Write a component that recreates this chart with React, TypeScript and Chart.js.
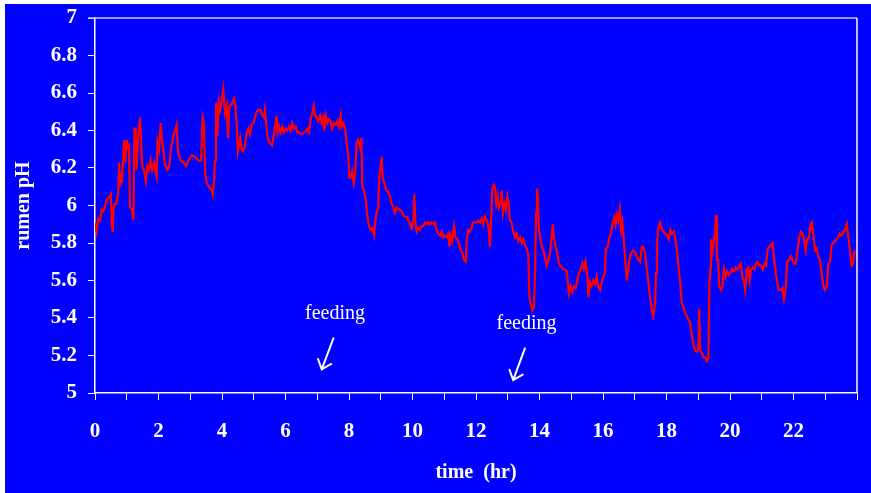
import React, { useEffect, useRef } from "react";
import { Chart, registerables } from "chart.js";

Chart.register(...registerables);

const timeHr: number[] = [
  0.00,0.05,0.10,0.16,0.21,0.26,0.31,0.37,0.42,0.47,
  0.50,0.53,0.56,0.58,0.63,0.68,0.73,0.76,0.79,0.82,
  0.85,0.89,0.92,0.95,1.00,1.03,1.07,1.10,1.16,1.21,
  1.24,1.28,1.31,1.36,1.42,1.45,1.49,1.54,1.60,1.65,
  1.70,1.75,1.80,1.86,1.91,1.94,1.97,2.02,2.07,2.11,
  2.15,2.20,2.28,2.34,2.39,2.47,2.52,2.57,2.62,2.70,
  2.78,2.87,2.94,3.05,3.15,3.25,3.34,3.39,3.43,3.47,
  3.52,3.59,3.68,3.71,3.75,3.78,3.81,3.85,3.90,3.94,
  3.99,4.04,4.07,4.10,4.15,4.19,4.23,4.31,4.38,4.42,
  4.46,4.50,4.57,4.62,4.67,4.72,4.78,4.83,4.88,4.94,
  4.99,5.04,5.09,5.14,5.22,5.27,5.32,5.35,5.39,5.43,
  5.48,5.53,5.58,5.64,5.69,5.72,5.75,5.80,5.85,5.90,
  5.95,6.01,6.06,6.11,6.16,6.21,6.27,6.32,6.37,6.43,
  6.48,6.53,6.58,6.64,6.69,6.74,6.79,6.84,6.89,6.93,
  6.98,7.03,7.09,7.14,7.19,7.22,7.27,7.32,7.37,7.42,
  7.47,7.53,7.58,7.63,7.69,7.74,7.77,7.82,7.87,7.93,
  7.98,8.01,8.06,8.10,8.15,8.19,8.24,8.29,8.35,8.39,
  8.42,8.47,8.53,8.58,8.63,8.68,8.73,8.79,8.82,8.87,
  8.92,8.95,9.00,9.03,9.06,9.11,9.17,9.24,9.29,9.34,
  9.40,9.45,9.50,9.57,9.66,9.74,9.82,9.87,9.92,9.97,
  10.03,10.06,10.09,10.13,10.18,10.24,10.29,10.34,10.39,10.45,
  10.50,10.55,10.60,10.66,10.71,10.76,10.81,10.87,10.92,10.97,
  11.02,11.08,11.13,11.16,11.20,11.25,11.31,11.36,11.41,11.46,
  11.52,11.57,11.62,11.68,11.71,11.76,11.81,11.86,11.91,11.97,
  12.02,12.07,12.13,12.18,12.23,12.28,12.34,12.39,12.44,12.48,
  12.51,12.56,12.60,12.64,12.68,12.72,12.78,12.81,12.85,12.90,
  12.94,12.99,13.03,13.07,13.12,13.17,13.23,13.28,13.33,13.39,
  13.44,13.49,13.54,13.60,13.65,13.68,13.72,13.77,13.83,13.86,
  13.89,13.92,13.95,13.98,14.03,14.07,14.12,14.17,14.23,14.28,
  14.33,14.38,14.42,14.46,14.51,14.56,14.61,14.65,14.70,14.75,
  14.80,14.86,14.89,14.93,14.98,15.03,15.09,15.14,15.19,15.24,
  15.30,15.35,15.40,15.45,15.51,15.54,15.59,15.64,15.69,15.75,
  15.80,15.85,15.91,15.96,16.01,16.06,16.09,16.15,16.20,16.25,
  16.31,16.36,16.40,16.44,16.48,16.53,16.57,16.61,16.65,16.69,
  16.75,16.80,16.85,16.90,16.95,17.01,17.06,17.11,17.17,17.22,
  17.27,17.32,17.38,17.43,17.48,17.53,17.58,17.64,17.67,17.70,
  17.75,17.80,17.86,17.91,17.96,18.02,18.07,18.12,18.17,18.23,
  18.28,18.33,18.38,18.43,18.48,18.53,18.58,18.64,18.69,18.74,
  18.79,18.84,18.90,18.95,19.00,19.03,19.06,19.12,19.17,19.22,
  19.28,19.32,19.35,19.39,19.40,19.44,19.50,19.53,19.56,19.59,
  19.63,19.66,19.72,19.76,19.81,19.86,19.91,19.97,20.02,20.07,
  20.13,20.18,20.23,20.28,20.34,20.39,20.44,20.48,20.53,20.58,
  20.62,20.66,20.72,20.77,20.82,20.87,20.92,20.98,21.03,21.08,
  21.13,21.19,21.24,21.29,21.34,21.39,21.44,21.49,21.54,21.60,
  21.65,21.70,21.75,21.80,21.86,21.91,21.96,22.02,22.07,22.12,
  22.17,22.23,22.28,22.33,22.38,22.43,22.49,22.54,22.58,22.62,
  22.68,22.73,22.78,22.83,22.89,22.94,22.99,23.05,23.10,23.15,
  23.20,23.25,23.31,23.36,23.41,23.46,23.52,23.57,23.62,23.68,
  23.73,23.78,23.83,23.88,23.91,23.95,
];

const rumenPH: number[] = [
  5.91,5.86,5.93,5.92,5.98,5.97,5.99,6.03,6.04,6.05,
  6.06,5.89,5.86,5.98,6.01,6.01,6.07,6.23,6.10,6.17,
  6.12,6.28,6.35,6.23,6.35,6.31,6.32,5.99,5.98,5.92,
  6.41,6.41,6.19,6.37,6.47,6.35,6.21,6.19,6.13,6.21,
  6.19,6.24,6.19,6.23,6.17,6.15,6.34,6.30,6.44,6.35,
  6.30,6.22,6.19,6.21,6.30,6.37,6.40,6.43,6.28,6.24,
  6.23,6.21,6.24,6.27,6.26,6.24,6.24,6.47,6.44,6.17,
  6.12,6.10,6.08,6.06,6.14,6.24,6.55,6.37,6.55,6.51,
  6.56,6.62,6.55,6.49,6.53,6.36,6.53,6.54,6.57,6.53,
  6.44,6.29,6.36,6.30,6.29,6.32,6.39,6.41,6.38,6.43,
  6.44,6.47,6.50,6.51,6.51,6.48,6.47,6.51,6.44,6.37,
  6.34,6.33,6.32,6.39,6.44,6.48,6.39,6.42,6.39,6.42,
  6.39,6.41,6.40,6.42,6.40,6.44,6.41,6.42,6.39,6.39,
  6.38,6.38,6.39,6.40,6.41,6.39,6.46,6.49,6.53,6.48,
  6.47,6.45,6.48,6.44,6.47,6.40,6.48,6.44,6.46,6.45,
  6.41,6.44,6.43,6.45,6.42,6.48,6.42,6.44,6.42,6.33,
  6.26,6.15,6.15,6.18,6.12,6.17,6.33,6.35,6.31,6.36,
  6.10,6.08,6.03,5.94,5.89,5.87,5.88,5.84,5.91,5.96,
  5.99,6.15,6.21,6.26,6.15,6.12,6.08,6.07,6.05,6.01,
  5.99,5.96,5.99,5.98,5.97,5.94,5.94,5.92,5.90,5.88,
  5.93,6.06,5.91,5.86,5.88,5.87,5.89,5.89,5.91,5.90,
  5.91,5.90,5.91,5.90,5.91,5.87,5.85,5.84,5.86,5.83,
  5.84,5.83,5.85,5.78,5.84,5.81,5.89,5.83,5.82,5.80,
  5.76,5.75,5.71,5.70,5.82,5.87,5.86,5.88,5.91,5.91,
  5.91,5.92,5.91,5.93,5.90,5.94,5.92,5.89,5.78,5.94,
  6.08,6.11,6.10,6.01,6.05,5.99,6.02,6.08,5.96,6.01,
  5.98,6.05,6.01,5.92,5.91,5.86,5.83,5.85,5.81,5.83,
  5.80,5.82,5.79,5.77,5.73,5.51,5.48,5.44,5.46,5.66,
  5.96,6.09,6.05,5.87,5.82,5.78,5.76,5.73,5.68,5.71,
  5.75,5.83,5.90,5.82,5.78,5.74,5.69,5.68,5.67,5.66,
  5.66,5.65,5.59,5.53,5.57,5.54,5.57,5.56,5.60,5.64,
  5.66,5.69,5.66,5.70,5.62,5.51,5.59,5.57,5.60,5.58,
  5.62,5.57,5.55,5.59,5.62,5.64,5.77,5.78,5.83,5.85,
  5.91,5.94,5.90,5.95,5.92,5.98,5.87,5.91,5.83,5.73,
  5.60,5.67,5.73,5.75,5.76,5.75,5.73,5.71,5.70,5.78,
  5.78,5.75,5.66,5.59,5.51,5.45,5.41,5.47,5.64,5.80,
  5.89,5.91,5.87,5.86,5.85,5.84,5.82,5.87,5.85,5.86,
  5.82,5.76,5.67,5.59,5.48,5.46,5.43,5.41,5.39,5.38,
  5.32,5.26,5.23,5.22,5.23,5.45,5.23,5.21,5.19,5.19,
  5.17,5.19,5.59,5.66,5.82,5.75,5.83,5.85,5.95,5.71,
  5.71,5.57,5.55,5.57,5.66,5.62,5.65,5.63,5.64,5.66,
  5.65,5.67,5.66,5.67,5.69,5.62,5.60,5.55,5.66,5.67,
  5.60,5.66,5.67,5.66,5.69,5.70,5.68,5.68,5.66,5.69,
  5.68,5.77,5.78,5.79,5.80,5.71,5.64,5.59,5.55,5.55,
  5.56,5.50,5.55,5.70,5.71,5.73,5.71,5.69,5.69,5.75,
  5.82,5.86,5.85,5.82,5.76,5.82,5.83,5.90,5.91,5.85,
  5.76,5.77,5.73,5.71,5.64,5.57,5.55,5.57,5.69,5.70,
  5.79,5.80,5.81,5.82,5.83,5.85,5.84,5.86,5.87,5.90,
  5.83,5.76,5.68,5.69,5.75,5.76,
];

// Axis ranges / tick labels
const xMin = 0;
const xMax = 24;
const xLabelled: number[] = [0, 2, 4, 6, 8, 10, 12, 14, 16, 18, 20, 22];
const yMin = 5;
const yMax = 7;
const yStep = 0.2;
const xTitle = "time  (hr)";
const yTitle = "rumen pH";

// "feeding" annotations (data coordinates)
const noteText = "feeding";
const noteHr: number[] = [7.56, 13.59];
const notePH: number[] = [5.393, 5.341];
const arrowFromHr: number[] = [7.51, 13.54];
const arrowFromPH: number[] = [5.292, 5.238];
const arrowToHr: number[] = [7.14, 13.17];
const arrowToPH: number[] = [5.126, 5.069];

const serif = '"Liberation Serif", "Times New Roman", serif';

const decorPlugin = {
  id: "decor",
  afterDatasetsDraw(chart: any) {
    const { ctx, chartArea, scales } = chart;
    const x = scales.x;
    const y = scales.y;
    ctx.save();
    // top frame line
    ctx.strokeStyle = "#c8c8ff";
    ctx.lineWidth = 1.5;
    ctx.beginPath();
    ctx.moveTo(chartArea.left - 7, chartArea.top);
    ctx.lineTo(chartArea.right, chartArea.top);
    ctx.stroke();
    // right frame line
    ctx.strokeStyle = "#ffffff";
    ctx.beginPath();
    ctx.moveTo(chartArea.right, chartArea.top);
    ctx.lineTo(chartArea.right, chartArea.bottom);
    ctx.stroke();

    // notes
    ctx.fillStyle = "#ffffff";
    ctx.font = `20px ${serif}`;
    ctx.textAlign = "center";
    ctx.textBaseline = "alphabetic";
    for (let i = 0; i < noteHr.length; i++) {
      ctx.fillText(noteText, x.getPixelForValue(noteHr[i]), y.getPixelForValue(notePH[i]));
    }
    // arrows
    ctx.strokeStyle = "#ffffff";
    ctx.lineWidth = 2;
    ctx.lineCap = "round";
    for (let i = 0; i < arrowFromHr.length; i++) {
      const x0 = x.getPixelForValue(arrowFromHr[i]);
      const y0 = y.getPixelForValue(arrowFromPH[i]);
      const x1 = x.getPixelForValue(arrowToHr[i]);
      const y1 = y.getPixelForValue(arrowToPH[i]);
      ctx.beginPath();
      ctx.moveTo(x0, y0);
      ctx.lineTo(x1, y1);
      const ang = Math.atan2(y0 - y1, x0 - x1);
      const len = 11;
      const spread = (40 * Math.PI) / 180;
      ctx.moveTo(x1 + len * Math.cos(ang - spread), y1 + len * Math.sin(ang - spread));
      ctx.lineTo(x1, y1);
      ctx.lineTo(x1 + len * Math.cos(ang + spread), y1 + len * Math.sin(ang + spread));
      ctx.stroke();
    }
    ctx.restore();
  },
};

export default function App() {
  const canvasRef = useRef<HTMLCanvasElement | null>(null);

  useEffect(() => {
    const canvas = canvasRef.current;
    if (!canvas) return;
    const points = timeHr.map((t, i) => ({ x: t, y: rumenPH[i] }));
    const chart = new Chart(canvas, {
      type: "line",
      data: {
        datasets: [
          {
            data: points,
            borderColor: "#ff0000",
            borderWidth: 2.2,
            pointRadius: 0,
            tension: 0,
            fill: false,
          },
        ],
      },
      options: {
        responsive: false,
        animation: false,
        devicePixelRatio: 1,
        layout: { padding: { left: 0, right: 14, top: 14, bottom: 0 } },
        plugins: {
          legend: { display: false },
          tooltip: { enabled: false },
        },
        scales: {
          x: {
            type: "linear",
            min: xMin,
            max: xMax,
            afterFit: (scale: any) => {
              scale.height = 100;
              scale.paddingLeft = 0;
              scale.paddingRight = 0;
            },
            ticks: {
              stepSize: 1,
              autoSkip: false,
              maxRotation: 0,
              color: "#ffffff",
              padding: 19,
              font: { family: serif, size: 21, weight: "bold" },
              callback: (v: any) => (xLabelled.includes(Number(v)) ? String(v) : ""),
            },
            grid: {
              drawOnChartArea: false,
              drawTicks: true,
              tickLength: 7,
              color: "#ffffff",
              lineWidth: 1,
            },
            border: { display: true, color: "#ffffff", width: 1.5 },
            title: {
              display: true,
              text: xTitle,
              color: "#ffffff",
              font: { family: serif, size: 20, weight: "bold" },
              padding: { top: 0, bottom: 8 },
            },
          },
          y: {
            type: "linear",
            min: yMin,
            max: yMax,
            afterFit: (scale: any) => {
              scale.width = 90;
              scale.paddingTop = 0;
              scale.paddingBottom = 0;
            },
            ticks: {
              stepSize: yStep,
              autoSkip: false,
              color: "#ffffff",
              padding: 11,
              font: { family: serif, size: 21, weight: "bold" },
              callback: (v: any) => String(Number(Number(v).toFixed(1))),
            },
            grid: {
              drawOnChartArea: false,
              drawTicks: true,
              tickLength: 7,
              color: "#ffffff",
              lineWidth: 1,
            },
            border: { display: true, color: "#ffffff", width: 1.5 },
            title: {
              display: true,
              text: yTitle,
              color: "#ffffff",
              font: { family: serif, size: 20, weight: "bold" },
              padding: { top: 7, bottom: 0 },
            },
          },
        },
      },
      plugins: [decorPlugin],
    });
    return () => chart.destroy();
  }, []);

  return (
    <div
      style={{
        position: "fixed",
        left: 5,
        top: 4,
        width: 866,
        height: 489,
        background: "#0000ff",
      }}
    >
      <canvas ref={canvasRef} width={866} height={489} style={{ width: 866, height: 489, display: "block" }} />
    </div>
  );
}
